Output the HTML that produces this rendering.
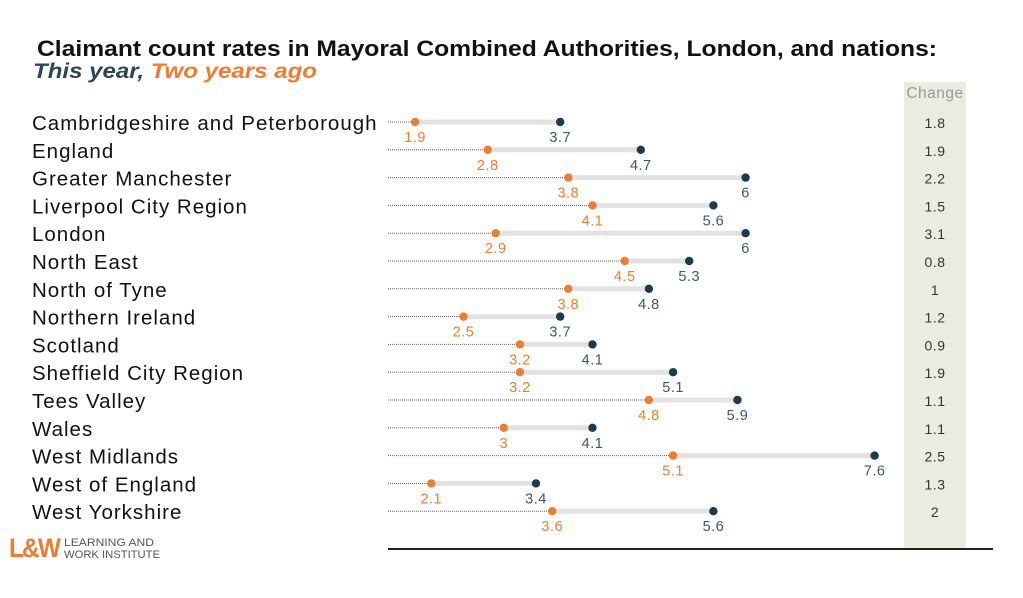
<!DOCTYPE html><html><head><style>body{margin:0;background:#fff}
.n{font-size:20.5px;fill:#111;letter-spacing:1px}.o{font-size:14.5px;fill:#ed7d31;text-anchor:middle;letter-spacing:0.5px}.b{font-size:14.5px;fill:#3d5866;text-anchor:middle;letter-spacing:0.5px}.c{font-size:14px;fill:#333;text-anchor:middle;letter-spacing:0.5px}
.dl{stroke:#666;stroke-width:1;stroke-dasharray:1,1}.g{stroke:#e2e2e2;stroke-width:5}</style></head><body>
<svg width="1023" height="593" xmlns="http://www.w3.org/2000/svg" font-family="Liberation Sans, sans-serif">
<rect width="1023" height="593" fill="#fff"/>
<text x="37" y="56" font-size="22" font-weight="bold" fill="#111" textLength="900" lengthAdjust="spacingAndGlyphs">Claimant count rates in Mayoral Combined Authorities, London, and nations:</text>
<text x="33" y="78" font-size="21" font-weight="bold" font-style="italic" fill="#2d4654" textLength="284" lengthAdjust="spacingAndGlyphs">This year,  <tspan fill="#ed7d31">Two years ago</tspan></text>
<rect x="904" y="82" width="62" height="467" fill="#ecebe0"/>
<text x="935" y="98" font-size="15.5" fill="#999" text-anchor="middle" letter-spacing="0.5">Change</text>
<line x1="388" y1="549" x2="993" y2="549" stroke="#222" stroke-width="2"/>

<g transform="translate(0,122)"><text class="n" x="32" y="8">Cambridgeshire and Peterborough</text><line class="dl" x1="388" x2="415.1"/><line class="g" x1="415.1" x2="560.2"/><circle cx="415.1" r="4.2" fill="#ed7d31"/><circle cx="560.2" r="4.2" fill="#1f3a48"/><text class="o" x="415.1" y="20">1.9</text><text class="b" x="560.2" y="20">3.7</text><text class="c" x="935" y="6">1.8</text></g>
<g transform="translate(0,149.8)"><text class="n" x="32" y="8">England</text><line class="dl" x1="388" x2="487.7"/><line class="g" x1="487.7" x2="640.8"/><circle cx="487.7" r="4.2" fill="#ed7d31"/><circle cx="640.8" r="4.2" fill="#1f3a48"/><text class="o" x="487.7" y="20">2.8</text><text class="b" x="640.8" y="20">4.7</text><text class="c" x="935" y="6">1.9</text></g>
<g transform="translate(0,177.6)"><text class="n" x="32" y="8">Greater Manchester</text><line class="dl" x1="388" x2="568.3"/><line class="g" x1="568.3" x2="745.6"/><circle cx="568.3" r="4.2" fill="#ed7d31"/><circle cx="745.6" r="4.2" fill="#1f3a48"/><text class="o" x="568.3" y="20">3.8</text><text class="b" x="745.6" y="20">6</text><text class="c" x="935" y="6">2.2</text></g>
<g transform="translate(0,205.4)"><text class="n" x="32" y="8">Liverpool City Region</text><line class="dl" x1="388" x2="592.5"/><line class="g" x1="592.5" x2="713.4"/><circle cx="592.5" r="4.2" fill="#ed7d31"/><circle cx="713.4" r="4.2" fill="#1f3a48"/><text class="o" x="592.5" y="20">4.1</text><text class="b" x="713.4" y="20">5.6</text><text class="c" x="935" y="6">1.5</text></g>
<g transform="translate(0,233.2)"><text class="n" x="32" y="8">London</text><line class="dl" x1="388" x2="495.7"/><line class="g" x1="495.7" x2="745.6"/><circle cx="495.7" r="4.2" fill="#ed7d31"/><circle cx="745.6" r="4.2" fill="#1f3a48"/><text class="o" x="495.7" y="20">2.9</text><text class="b" x="745.6" y="20">6</text><text class="c" x="935" y="6">3.1</text></g>
<g transform="translate(0,261)"><text class="n" x="32" y="8">North East</text><line class="dl" x1="388" x2="624.7"/><line class="g" x1="624.7" x2="689.2"/><circle cx="624.7" r="4.2" fill="#ed7d31"/><circle cx="689.2" r="4.2" fill="#1f3a48"/><text class="o" x="624.7" y="20">4.5</text><text class="b" x="689.2" y="20">5.3</text><text class="c" x="935" y="6">0.8</text></g>
<g transform="translate(0,288.8)"><text class="n" x="32" y="8">North of Tyne</text><line class="dl" x1="388" x2="568.3"/><line class="g" x1="568.3" x2="648.9"/><circle cx="568.3" r="4.2" fill="#ed7d31"/><circle cx="648.9" r="4.2" fill="#1f3a48"/><text class="o" x="568.3" y="20">3.8</text><text class="b" x="648.9" y="20">4.8</text><text class="c" x="935" y="6">1</text></g>
<g transform="translate(0,316.6)"><text class="n" x="32" y="8">Northern Ireland</text><line class="dl" x1="388" x2="463.5"/><line class="g" x1="463.5" x2="560.2"/><circle cx="463.5" r="4.2" fill="#ed7d31"/><circle cx="560.2" r="4.2" fill="#1f3a48"/><text class="o" x="463.5" y="20">2.5</text><text class="b" x="560.2" y="20">3.7</text><text class="c" x="935" y="6">1.2</text></g>
<g transform="translate(0,344.4)"><text class="n" x="32" y="8">Scotland</text><line class="dl" x1="388" x2="519.9"/><line class="g" x1="519.9" x2="592.5"/><circle cx="519.9" r="4.2" fill="#ed7d31"/><circle cx="592.5" r="4.2" fill="#1f3a48"/><text class="o" x="519.9" y="20">3.2</text><text class="b" x="592.5" y="20">4.1</text><text class="c" x="935" y="6">0.9</text></g>
<g transform="translate(0,372.2)"><text class="n" x="32" y="8">Sheffield City Region</text><line class="dl" x1="388" x2="519.9"/><line class="g" x1="519.9" x2="673.1"/><circle cx="519.9" r="4.2" fill="#ed7d31"/><circle cx="673.1" r="4.2" fill="#1f3a48"/><text class="o" x="519.9" y="20">3.2</text><text class="b" x="673.1" y="20">5.1</text><text class="c" x="935" y="6">1.9</text></g>
<g transform="translate(0,400)"><text class="n" x="32" y="8">Tees Valley</text><line class="dl" x1="388" x2="648.9"/><line class="g" x1="648.9" x2="737.5"/><circle cx="648.9" r="4.2" fill="#ed7d31"/><circle cx="737.5" r="4.2" fill="#1f3a48"/><text class="o" x="648.9" y="20">4.8</text><text class="b" x="737.5" y="20">5.9</text><text class="c" x="935" y="6">1.1</text></g>
<g transform="translate(0,427.8)"><text class="n" x="32" y="8">Wales</text><line class="dl" x1="388" x2="503.8"/><line class="g" x1="503.8" x2="592.5"/><circle cx="503.8" r="4.2" fill="#ed7d31"/><circle cx="592.5" r="4.2" fill="#1f3a48"/><text class="o" x="503.8" y="20">3</text><text class="b" x="592.5" y="20">4.1</text><text class="c" x="935" y="6">1.1</text></g>
<g transform="translate(0,455.6)"><text class="n" x="32" y="8">West Midlands</text><line class="dl" x1="388" x2="673.1"/><line class="g" x1="673.1" x2="874.6"/><circle cx="673.1" r="4.2" fill="#ed7d31"/><circle cx="874.6" r="4.2" fill="#1f3a48"/><text class="o" x="673.1" y="20">5.1</text><text class="b" x="874.6" y="20">7.6</text><text class="c" x="935" y="6">2.5</text></g>
<g transform="translate(0,483.4)"><text class="n" x="32" y="8">West of England</text><line class="dl" x1="388" x2="431.3"/><line class="g" x1="431.3" x2="536"/><circle cx="431.3" r="4.2" fill="#ed7d31"/><circle cx="536" r="4.2" fill="#1f3a48"/><text class="o" x="431.3" y="20">2.1</text><text class="b" x="536" y="20">3.4</text><text class="c" x="935" y="6">1.3</text></g>
<g transform="translate(0,511.2)"><text class="n" x="32" y="8">West Yorkshire</text><line class="dl" x1="388" x2="552.2"/><line class="g" x1="552.2" x2="713.4"/><circle cx="552.2" r="4.2" fill="#ed7d31"/><circle cx="713.4" r="4.2" fill="#1f3a48"/><text class="o" x="552.2" y="20">3.6</text><text class="b" x="713.4" y="20">5.6</text><text class="c" x="935" y="6">2</text></g>

<text x="9" y="557" font-size="27" font-weight="bold" fill="#ed7d31" letter-spacing="-2" textLength="50" lengthAdjust="spacingAndGlyphs">L&amp;W</text>
<text x="64" y="546" font-size="11" fill="#555" textLength="90" lengthAdjust="spacingAndGlyphs">LEARNING AND</text>
<text x="64" y="558" font-size="11" fill="#555" textLength="96" lengthAdjust="spacingAndGlyphs">WORK INSTITUTE</text>
</svg></body></html>
